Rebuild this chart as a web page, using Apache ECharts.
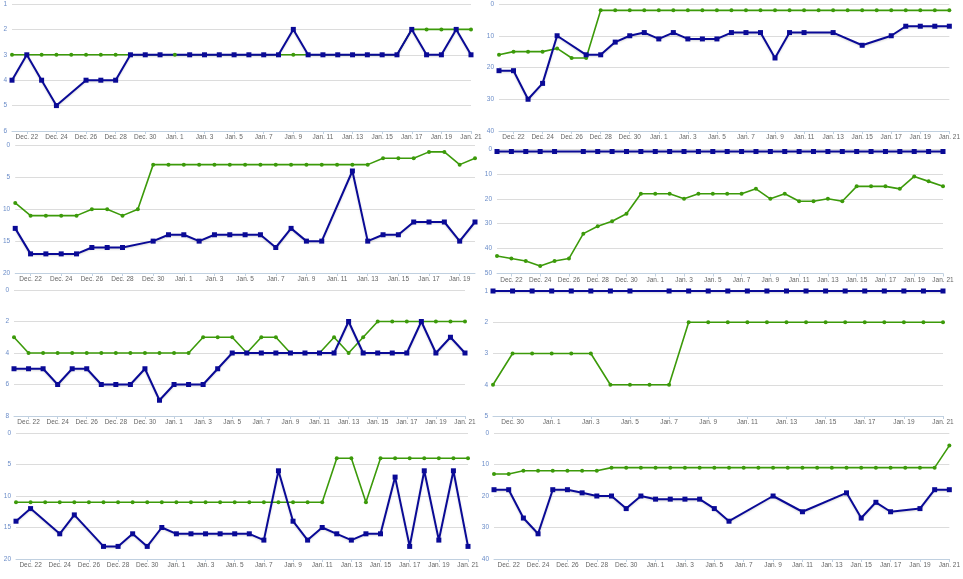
<!DOCTYPE html>
<html>
<head>
<meta charset="utf-8">
<style>
  html, body { margin: 0; padding: 0; background: #fff; }
  #chart { width: 963px; height: 579px; }
</style>
<script src="https://cdn.jsdelivr.net/npm/echarts@6/dist/echarts.min.js"></script>
</head>
<body>
<div id="chart"></div>
<script>
// x轴日期 (Dec. 21 - Jan. 21)
const dates = ['Dec. 21', 'Dec. 22', 'Dec. 23', 'Dec. 24', 'Dec. 25', 'Dec. 26', 'Dec. 27', 'Dec. 28',
  'Dec. 29', 'Dec. 30', 'Dec. 31', 'Jan. 1', 'Jan. 2', 'Jan. 3', 'Jan. 4', 'Jan. 5', 'Jan. 6',
  'Jan. 7', 'Jan. 8', 'Jan. 9', 'Jan. 10', 'Jan. 11', 'Jan. 12', 'Jan. 13', 'Jan. 14', 'Jan. 15',
  'Jan. 16', 'Jan. 17', 'Jan. 18', 'Jan. 19', 'Jan. 20', 'Jan. 21']
const dates3 = dates.slice(0, 31)   // Dec. 21 - Jan. 20
const dates6 = dates.slice(8)       // Dec. 29 - Jan. 21

// y轴范围 [min, max, interval]
const yRanges = [[1, 6, 1], [0, 40, 10], [0, 20, 5], [0, 50, 10], [0, 8, 2], [1, 5, 1], [0, 20, 5], [0, 40, 10]]

// 绿色系列
const green1 = [3, 3, 3, 3, 3, 3, 3, 3, 3, 3, 3, 3, 3, 3, 3, 3, 3, 3, 3, 3, 3, 3, 3, 3, 3, 3, 3, 2, 2, 2, 2, 2]
const green2 = [16, 15, 15, 15, 14, 17, 17, 2, 2, 2, 2, 2, 2, 2, 2, 2, 2, 2, 2, 2, 2, 2, 2, 2, 2, 2, 2, 2, 2, 2, 2, 2]
const green3 = [9, 11, 11, 11, 11, 10, 10, 11, 10, 3, 3, 3, 3, 3, 3, 3, 3, 3, 3, 3, 3, 3, 3, 3, 2, 2, 2, 1, 1, 3, 2]
const green4 = [43, 44, 45, 47, 45, 44, 34, 31, 29, 26, 18, 18, 18, 20, 18, 18, 18, 18, 16, 20, 18, 21, 21, 20, 21, 15, 15, 15, 16, 11, 13, 15]
const green5 = [3, 4, 4, 4, 4, 4, 4, 4, 4, 4, 4, 4, 4, 3, 3, 3, 4, 3, 3, 4, 4, 4, 3, 4, 3, 2, 2, 2, 2, 2, 2, 2]
const green6 = [4, 3, 3, 3, 3, 3, 4, 4, 4, 4, 2, 2, 2, 2, 2, 2, 2, 2, 2, 2, 2, 2, 2, 2]
const green7 = [11, 11, 11, 11, 11, 11, 11, 11, 11, 11, 11, 11, 11, 11, 11, 11, 11, 11, 11, 11, 11, 11, 4, 4, 11, 4, 4, 4, 4, 4, 4, 4]
const green8 = [13, 13, 12, 12, 12, 12, 12, 12, 11, 11, 11, 11, 11, 11, 11, 11, 11, 11, 11, 11, 11, 11, 11, 11, 11, 11, 11, 11, 11, 11, 11, 4]

// 蓝色系列 (null = 缺失)
const blue1 = [4, 3, 4, 5, null, 4, 4, 4, 3, 3, 3, null, 3, 3, 3, 3, 3, 3, 3, 2, 3, 3, 3, 3, 3, 3, 3, 2, 3, 3, 2, 3]
const blue2 = [21, 21, 30, 25, 10, null, 16, 16, 12, 10, 9, 11, 9, 11, 11, 11, 9, 9, 9, 17, 9, 9, null, 9, null, 13, null, 10, 7, 7, 7, 7]
const blue3 = [13, 17, 17, 17, 17, 16, 16, 16, null, 15, 14, 14, 15, 14, 14, 14, 14, 16, 13, 15, 15, null, 4, 15, 14, 14, 12, 12, 12, 15, 12]
const blue4 = [1, 1, 1, 1, 1, null, 1, 1, 1, 1, 1, 1, 1, 1, 1, 1, 1, 1, 1, 1, 1, 1, 1, 1, 1, 1, 1, 1, 1, 1, 1, 1]
const blue5 = [5, 5, 5, 6, 5, 5, 6, 6, 6, 5, 7, 6, 6, 6, 5, 4, 4, 4, 4, 4, 4, 4, 4, 2, 4, 4, 4, 4, 2, 4, 3, 4]
const blue6 = [1, 1, 1, 1, 1, 1, 1, 1, null, 1, 1, 1, 1, 1, 1, 1, 1, 1, 1, 1, 1, 1, 1, 1]
const blue7 = [14, 12, null, 16, 13, null, 18, 18, 16, 18, 15, 16, 16, 16, 16, 16, 16, 17, 6, 14, 17, 15, 16, 17, 16, 16, 7, 18, 6, 17, 6, 18]
const blue8 = [18, 18, 27, 32, 18, 18, 19, 20, 20, 24, 20, 21, 21, 21, 21, 24, 28, null, null, 20, null, 25, null, null, 19, 27, 22, 25, null, 24, 18, 18]

const panelDates = [dates, dates, dates3, dates, dates, dates6, dates, dates]
const greens = [green1, green2, green3, green4, green5, green6, green7, green8]
const blues = [blue1, blue2, blue3, blue4, blue5, blue6, blue7, blue8]

// 每个小图的位置 (px)
const grids = [
  { left: 12, top: 4, width: 459, height: 127 },
  { left: 499, top: 4, width: 454, height: 127 },
  { left: 15, top: 145.5, width: 460, height: 127.5 },
  { left: 497, top: 149, width: 446, height: 124.5 },
  { left: 14, top: 290, width: 451, height: 126 },
  { left: 493, top: 291, width: 450, height: 125 },
  { left: 16, top: 433, width: 452, height: 126 },
  { left: 494, top: 433, width: 458, height: 126 }
]

// 隔一天显示一个标签
function oddIndex(index) {
  return index % 2 === 1
}

let myChart = echarts.init(document.getElementById('chart'))
let xAxis = []
let yAxis = []
let series = []

grids.forEach(function(g, i) {
  xAxis.push({
    type: 'category',
    gridIndex: i,
    data: panelDates[i],
    boundaryGap: false,
    axisLine: {
      onZero: false,
      lineStyle: { color: '#c0d0e0', width: 1 }
    },
    axisTick: {
      interval: oddIndex,
      length: 3,
      lineStyle: { color: '#c0d0e0' }
    },
    axisLabel: {
      interval: oddIndex,
      margin: 3,
      color: '#666',
      fontSize: 6.5,
      fontFamily: 'Liberation Sans'
    },
    splitLine: { show: false }
  })
  yAxis.push({
    type: 'value',
    gridIndex: i,
    inverse: true,
    min: yRanges[i][0],
    max: yRanges[i][1],
    interval: yRanges[i][2],
    axisLine: { show: false },
    axisTick: { show: false },
    axisLabel: {
      margin: 5,
      color: '#6a8cc8',
      fontSize: 6.5,
      fontFamily: 'Liberation Sans'
    },
    splitLine: {
      lineStyle: { color: '#dcdcdc' }
    }
  })
  // 绿色在下
  series.push({
    type: 'line',
    xAxisIndex: i,
    yAxisIndex: i,
    data: greens[i],
    symbol: 'circle',
    symbolSize: 4,
    connectNulls: true,
    itemStyle: { color: '#3c9a0a' },
    lineStyle: { color: '#3c9a0a', width: 1.6 }
  })
  // 蓝色在上
  series.push({
    type: 'line',
    xAxisIndex: i,
    yAxisIndex: i,
    data: blues[i],
    symbol: 'rect',
    symbolSize: 5,
    connectNulls: true,
    itemStyle: { color: '#0a0a96' },
    lineStyle: {
      color: '#0a0a96',
      width: 2,
      shadowColor: 'rgba(0,0,0,0.15)',
      shadowBlur: 2,
      shadowOffsetY: 1
    }
  })
})

let option = {
  animation: false,
  grid: grids,
  xAxis: xAxis,
  yAxis: yAxis,
  series: series
}
myChart.setOption(option)
window.addEventListener('resize', function() {
  myChart.resize()
})
</script>
</body>
</html>
